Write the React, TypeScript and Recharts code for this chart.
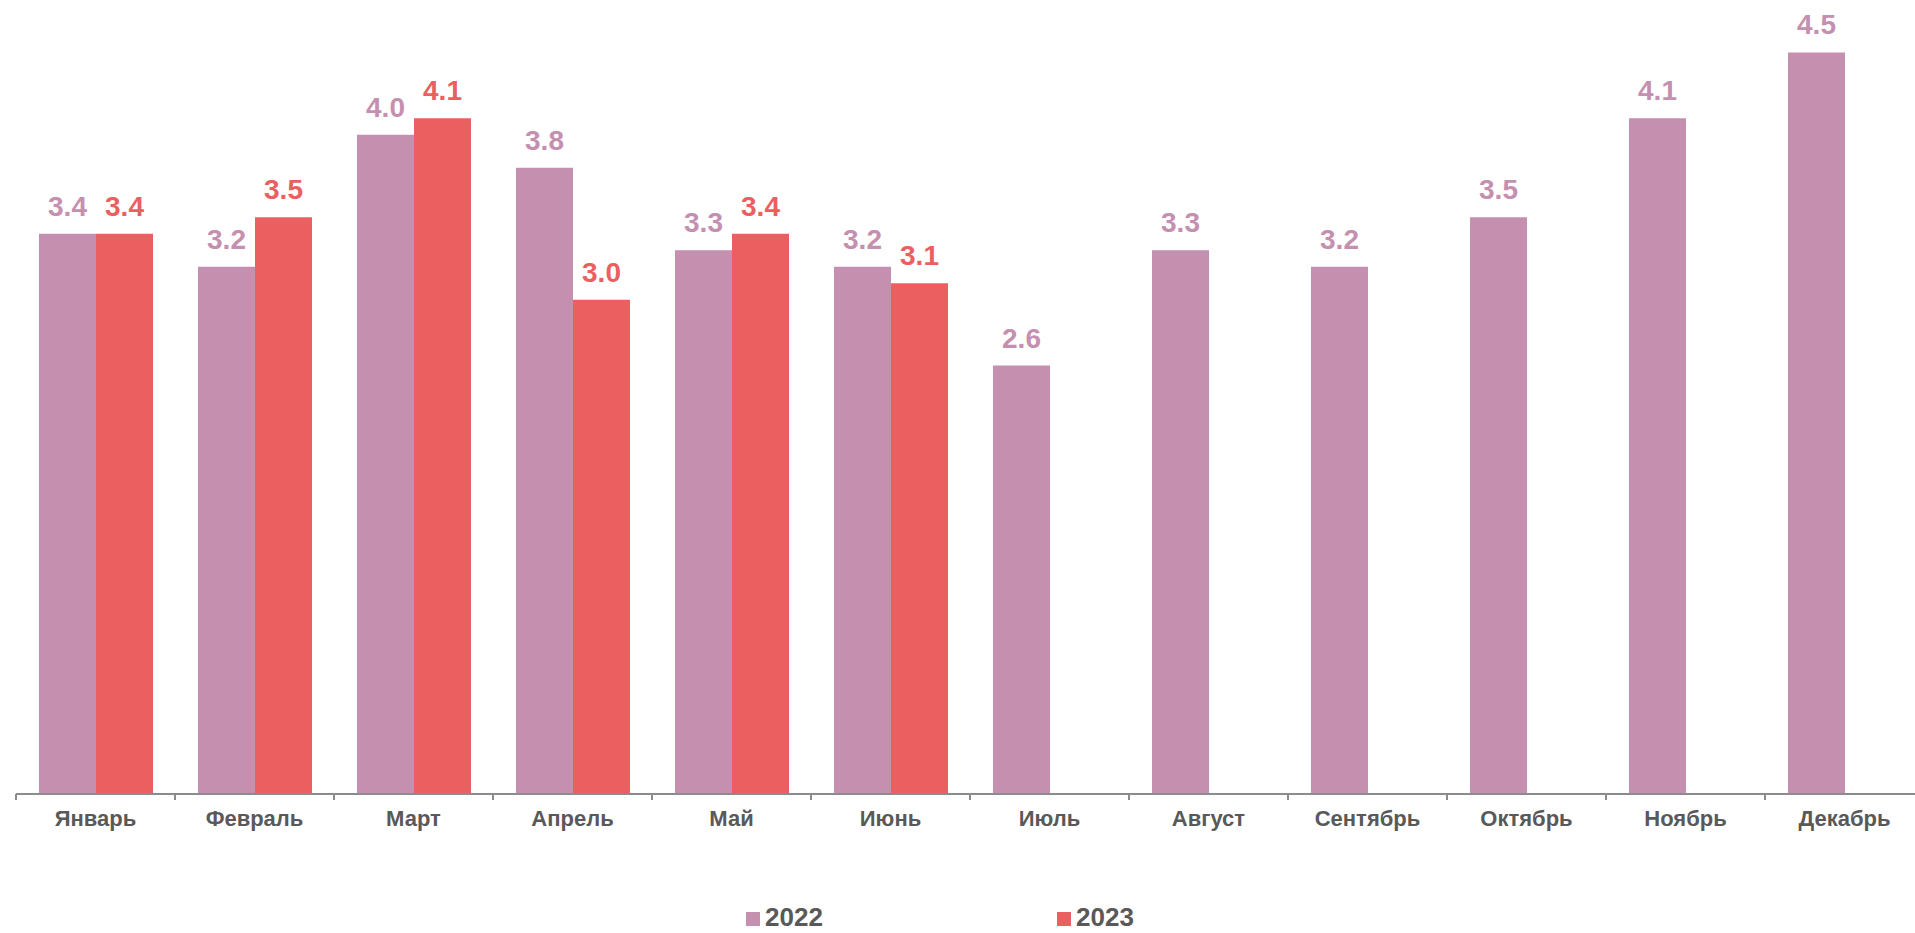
import { BarChart, Bar, XAxis, YAxis, LabelList } from "recharts"

const months = ["Январь", "Февраль", "Март", "Апрель", "Май", "Июнь", "Июль", "Август", "Сентябрь", "Октябрь", "Ноябрь", "Декабрь"]
const values2022 = [3.4, 3.2, 4.0, 3.8, 3.3, 3.2, 2.6, 3.3, 3.2, 3.5, 4.1, 4.5]
const values2023: (number | null)[] = [3.4, 3.5, 4.1, 3.0, 3.4, 3.1, null, null, null, null, null, null]
const seriesNames = ["2022", "2023"]

const COLOR_2022 = "#C590B0"
const COLOR_2023 = "#EB5F61"
const TEXT = "#595959"
const AXIS = "#8C8C8C"
const FONT = "'Liberation Sans', Arial, sans-serif"

const data = months.map((m, i) => ({ month: m, y2022: values2022[i], y2023: values2023[i] }))

const fmt = (v: any) => (v == null ? "" : Number(v).toFixed(1))

// tick label with tick mark on the category boundary (left edge of the band)
function MonthTick(props: any) {
  const { x, y, payload, index } = props
  const half = payload && payload.offset ? payload.offset : 79.5
  const axisY = y - 18
  return (
    <g>
      <line x1={x - half} x2={x - half} y1={axisY} y2={axisY + 6} stroke={AXIS} strokeWidth={2} />
      {index === months.length - 1 && (
        <line x1={x + half} x2={x + half} y1={axisY} y2={axisY + 6} stroke={AXIS} strokeWidth={2} />
      )}
      <text x={x} y={axisY + 32} textAnchor="middle" fill={TEXT} fontSize={22} fontWeight={700} fontFamily={FONT}>
        {payload.value}
      </text>
    </g>
  )
}

export default function App() {
  return (
    <div style={{ position: "absolute", left: 0, top: 0, width: 1915, height: 933, overflow: "hidden", background: "#fff", fontFamily: FONT }}>
      <BarChart
        width={1940}
        height={933}
        data={data}
        margin={{ top: 3, right: 16, bottom: 0, left: 16 }}
        barGap={0}
      >
        <XAxis
          dataKey="month"
          height={139}
          stroke={AXIS}
          strokeWidth={2}
          tickLine={false}
          tickSize={6}
          tickMargin={12}
          interval={0}
          tick={<MonthTick />}
        />
        <YAxis hide domain={[0, 4.8]} />
        <Bar dataKey="y2022" name={seriesNames[0]} fill={COLOR_2022} barSize={57} isAnimationActive={false}>
          <LabelList dataKey="y2022" position="top" offset={18} formatter={fmt} fill={COLOR_2022} fontSize={28} fontWeight={700} fontFamily={FONT} />
        </Bar>
        <Bar dataKey="y2023" name={seriesNames[1]} fill={COLOR_2023} barSize={57} isAnimationActive={false}>
          <LabelList dataKey="y2023" position="top" offset={18} formatter={fmt} fill={COLOR_2023} fontSize={28} fontWeight={700} fontFamily={FONT} />
        </Bar>
      </BarChart>
      {/* legend */}
      <div style={{ position: "absolute", left: 746, top: 902, height: 30, display: "flex", alignItems: "center" }}>
        <span style={{ width: 14, height: 14, background: COLOR_2022, display: "inline-block", marginRight: 5, marginTop: 4 }} />
        <span style={{ color: TEXT, fontSize: 26, fontWeight: 700, lineHeight: "30px" }}>{seriesNames[0]}</span>
      </div>
      <div style={{ position: "absolute", left: 1057, top: 902, height: 30, display: "flex", alignItems: "center" }}>
        <span style={{ width: 14, height: 14, background: COLOR_2023, display: "inline-block", marginRight: 5, marginTop: 4 }} />
        <span style={{ color: TEXT, fontSize: 26, fontWeight: 700, lineHeight: "30px" }}>{seriesNames[1]}</span>
      </div>
    </div>
  )
}
